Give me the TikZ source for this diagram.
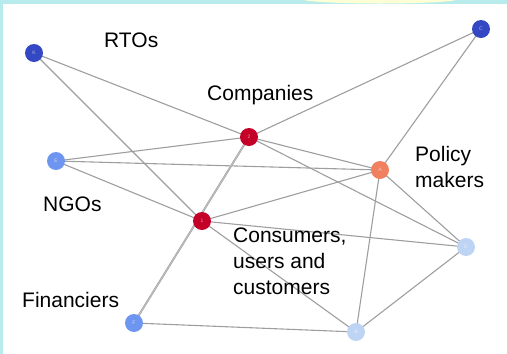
\documentclass[tikz,border=0pt]{standalone}
\usepackage{fontspec}
\setmainfont{Liberation Sans}
\usetikzlibrary{backgrounds}
\definecolor{frame}{RGB}{184,236,236}
\definecolor{hilite}{RGB}{255,255,214}
\definecolor{edgegray}{RGB}{158,158,158}
\definecolor{nblue}{RGB}{52,72,196}
\definecolor{ncrim}{RGB}{196,0,40}
\definecolor{ncorn}{RGB}{110,150,240}
\definecolor{nsalm}{RGB}{240,128,96}
\definecolor{npale}{RGB}{190,212,245}
\tikzset{
  vert/.style={circle, minimum size=18pt, inner sep=0pt, draw=none,
    font=\fontsize{5}{5}\selectfont, text=white, text opacity=0.6},
  lbl/.style={anchor=north west, inner sep=0pt, align=left,
    font=\fontsize{21}{26}\selectfont},
  link/.style={draw=edgegray, line width=1.1pt},
  dlink/.style={draw=edgegray, line width=0.6pt, double=edgegray!60, double distance=0.7pt}
}
\begin{document}
\begin{tikzpicture}[x=1pt,y=-1pt]
\useasboundingbox (0,0) rectangle (507,354);
% frame
\fill[frame] (0,0) rectangle (507,4);
\fill[frame] (0,0) rectangle (3,354);
\fill[hilite] (380,-1) ellipse [x radius=78, y radius=4.5];
% vertices
\node[vert, fill=nblue] (K) at (34,53) {K};
\node[vert, fill=nblue] (C) at (481,29) {C};
\node[vert, fill=ncrim] (Z) at (249,137) {2};
\node[vert, fill=ncorn] (E) at (56,161) {E};
\node[vert, fill=nsalm] (A) at (380,170) {A};
\node[vert, fill=ncrim] (J) at (202,221) {1};
\node[vert, fill=npale] (D) at (466,247) {D};
\node[vert, fill=ncorn] (F) at (134,323) {F};
\node[vert, fill=npale] (B) at (356,332) {B};
% labels
\node[lbl] (rto) at (104,33) {RTOs};
\node[lbl] (comp) at (207,85) {Companies};
\node[lbl] (pol) at (415,146) {Policy\\makers};
\node[lbl] (ngo) at (43,197) {NGOs};
\node[lbl] (cons) at (233,228) {Consumers,\\users and\\customers};
\node[lbl] (fin) at (22,292) {Financiers};
% edges
\begin{scope}[on background layer]
\draw[link] (K.center) -- (Z.center);
\draw[link] (K.center) -- (J.center);
\draw[link] (C.center) -- (Z.center);
\draw[link] (C.center) -- (A.center);
\draw[link] (E.center) -- (Z.center);
\draw[link] (E.center) -- (A.center);
\draw[link] (E.center) -- (J.center);
\draw[link] (Z.center) -- (A.center);
\draw[link] (Z.center) -- (D.center);
\draw[dlink] (Z.center) -- (F.center);
\draw[link] (J.center) -- (A.center);
\draw[link] (J.center) -- (D.center);
\draw[link] (J.center) -- (B.center);
\draw[link] (A.center) -- (D.center);
\draw[link] (A.center) -- (B.center);
\draw[link] (F.center) -- (B.center);
\draw[link] (B.center) -- (D.center);
\end{scope}
\end{tikzpicture}
\end{document}
